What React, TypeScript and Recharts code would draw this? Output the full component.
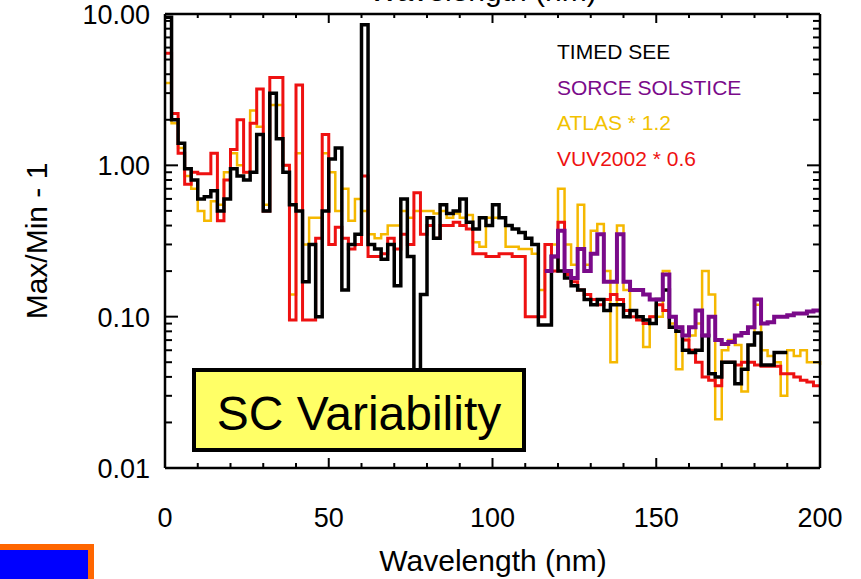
import { LineChart, Line, XAxis, YAxis } from 'recharts';

// wavelength bins (nm), 2 nm wide
const wavelengths = [
  0, 2, 4, 6, 8, 10, 12, 14, 16, 18,
  20, 22, 24, 26, 28, 30, 32, 34, 36, 38,
  40, 42, 44, 46, 48, 50, 52, 54, 56, 58,
  60, 62, 64, 66, 68, 70, 72, 74, 76, 78,
  80, 82, 84, 86, 88, 90, 92, 94, 96, 98,
  100, 102, 104, 106, 108, 110, 112, 114, 116, 118,
  120, 122, 124, 126, 128, 130, 132, 134, 136, 138,
  140, 142, 144, 146, 148, 150, 152, 154, 156, 158,
  160, 162, 164, 166, 168, 170, 172, 174, 176, 178,
  180, 182, 184, 186, 188, 190, 192, 194, 196, 198,
  200,
];

const timedSee = [
  9.5, 2.0, 1.4, 0.95, 0.8, 0.6, 0.62, 0.68, 0.5, 0.6,
  0.95, 0.85, 0.8, 0.9, 1.6, 0.5, 3.0, 1.5, 0.9, 0.55,
  0.5, 0.17, 0.3, 0.1, 0.5, 1.1, 1.3, 0.15, 0.3, 0.35,
  8.5, 0.3, 0.28, 0.24, 0.3, 0.16, 0.6, 0.25, 0.04, 0.14,
  0.45, 0.33, 0.55, 0.48, 0.5, 0.6, 0.42, 0.38, 0.45, 0.4,
  0.55, 0.45, 0.4, 0.38, 0.36, 0.33, 0.3, 0.088, 0.088, 0.25,
  0.2, 0.18, 0.16, 0.15, 0.13, 0.12, 0.13, 0.11, 0.12, 0.12,
  0.1, 0.11, 0.1, 0.095, 0.09, 0.13, 0.15, 0.085, 0.08, 0.06,
  0.058, 0.06, 0.075, 0.042, 0.04, 0.05, 0.05, 0.036, 0.045, 0.065,
  0.078, 0.048, 0.048, 0.058, 0.058, 0.058, null, null, null, null,
  null,
];

const sorceSolstice = [
  ...Array(58).fill(null), 0.2, 0.25,
  0.37, 0.2, 0.18, 0.28, 0.2, 0.26, 0.35, 0.17, 0.17, 0.35,
  0.17, 0.15, 0.15, 0.14, 0.13, 0.13, 0.19, 0.1, 0.085, 0.075,
  0.085, 0.11, 0.075, 0.1, 0.07, 0.066, 0.068, 0.075, 0.078, 0.085,
  0.13, 0.09, 0.092, 0.1, 0.1, 0.102, 0.105, 0.105, 0.108, 0.11,
  0.11,
];

const atlas = [
  3.5, 1.9, 1.3, 0.85, 0.7, 0.5, 0.43, 0.58, 0.55, 0.9,
  1.2, 1.0, 0.9, 2.3, 1.8, 0.55, 2.5, 2.5, 1.0, 0.14,
  1.2, 0.3, 0.45, 0.45, 1.2, 0.9, 0.5, 0.7, 0.43, 0.6,
  0.5, 0.35, 0.33, 0.35, 0.4, 0.4, 0.5, 0.45, 0.5, 0.5,
  0.5, 0.48, 0.5, 0.45, 0.48, 0.45, 0.47, 0.31, 0.29, 0.45,
  0.45, 0.45, 0.29, 0.29, 0.28, 0.28, 0.26, 0.15, 0.2, 0.3,
  0.7, 0.3, 0.22, 0.55, 0.22, 0.37, 0.41, 0.2, 0.05, 0.4,
  0.15, 0.11, 0.1, 0.063, 0.1, 0.1, 0.2, 0.09, 0.045, 0.07,
  0.075, 0.09, 0.2, 0.14, 0.021, 0.06, 0.07, 0.065, 0.032, 0.065,
  0.12, 0.06, 0.055, 0.05, 0.03, 0.06, 0.055, 0.06, 0.05, 0.05,
  0.048,
];

const vuv2002 = [
  5.5, 2.2, 1.2, 0.75, 0.9, 0.88, 0.88, 1.2, 0.43, 0.8,
  1.27, 2.0, 0.9, 1.9, 3.2, 0.5, 3.8, 3.8, 1.0, 0.095,
  3.4, 0.095, 0.095, 0.33, 1.6, 0.3, 0.39, 0.33, 0.28, 0.3,
  0.85, 0.25, 0.25, 0.26, 0.33, 0.28, 0.35, 0.3, 0.66, 0.35,
  0.4, 0.33, 0.4, 0.4, 0.42, 0.4, 0.38, 0.26, 0.26, 0.25,
  0.25, 0.26, 0.26, 0.25, 0.25, 0.1, 0.1, 0.1, 0.3, 0.2,
  0.42, 0.19, 0.17, 0.15, 0.14, 0.13, 0.12, 0.13, 0.14, 0.13,
  0.11, 0.1, 0.095, 0.09, 0.1, 0.12, 0.11, 0.085, 0.085, 0.07,
  0.06, 0.05, 0.04, 0.038, 0.035, 0.05, 0.05, 0.048, 0.05, 0.05,
  0.048, 0.047, 0.047, 0.047, 0.042, 0.042, 0.04, 0.038, 0.037, 0.035,
  0.035,
];

const xTicks = [0, 10, 20, 30, 40, 50, 60, 70, 80, 90, 100, 110, 120, 130, 140, 150, 160, 170, 180, 190, 200];
const yTicks = [
  0.01, 0.02, 0.03, 0.04, 0.05, 0.06, 0.07, 0.08, 0.09,
  0.1, 0.2, 0.3, 0.4, 0.5, 0.6, 0.7, 0.8, 0.9,
  1, 2, 3, 4, 5, 6, 7, 8, 9, 10,
];

const series = [
  { key: 'atlas', name: 'ATLAS * 1.2', color: '#F5B800', text: '#F2C200', width: 2.5 },
  { key: 'vuv', name: 'VUV2002 * 0.6', color: '#EE1111', text: '#EE1111', width: 3 },
  { key: 'see', name: 'TIMED SEE', color: '#000000', text: '#000000', width: 3.5 },
  { key: 'solstice', name: 'SORCE SOLSTICE', color: '#7A0A8A', text: '#7A0A8A', width: 4 },
];
const legendOrder = ['see', 'solstice', 'atlas', 'vuv'];

const data = wavelengths.map((w, i) => ({
  w,
  see: timedSee[i],
  solstice: sorceSolstice[i],
  atlas: atlas[i],
  vuv: vuv2002[i],
}));

const FONT = '"Liberation Sans", Arial, Helvetica, sans-serif';
const isDecade = (v: number) => Math.abs(Math.log10(v) - Math.round(Math.log10(v))) < 1e-6;

const BottomTick = ({ x, y, payload }: any) => {
  const major = payload.value % 50 === 0;
  return (
    <g>
      <line x1={x} y1={y} x2={x} y2={y - (major ? 10 : 5)} stroke="#000" strokeWidth={2} />
      {major && (
        <text x={x} y={y + 59} textAnchor="middle" fontSize={27} fontFamily={FONT} fill="#000">
          {payload.value}
        </text>
      )}
    </g>
  );
};

const TopTick = ({ x, y, payload }: any) => {
  const major = payload.value % 50 === 0;
  return <line x1={x} y1={y} x2={x} y2={y + (major ? 9 : 4)} stroke="#000" strokeWidth={2} />;
};

const LeftTick = ({ x, y, payload }: any) => {
  const major = isDecade(payload.value);
  return (
    <g>
      <line x1={x} y1={y} x2={x + (major ? 13 : 7)} y2={y} stroke="#000" strokeWidth={2} />
      {major && (
        <text x={x - 15} y={y + 10} textAnchor="end" fontSize={27} fontFamily={FONT} fill="#000">
          {payload.value.toFixed(2)}
        </text>
      )}
    </g>
  );
};

const RightTick = ({ x, y, payload }: any) => {
  const major = isDecade(payload.value);
  return <line x1={x} y1={y} x2={x - (major ? 13 : 7)} y2={y} stroke="#000" strokeWidth={2} />;
};

const axisLine = { stroke: '#000', strokeWidth: 2.5 };

export default function App() {
  return (
    <div style={{ position: 'absolute', left: 0, top: 0, width: 861, height: 579, background: '#fff', overflow: 'hidden' }}>
      <LineChart width={861} height={579} data={data} margin={{ top: 4, right: 21, bottom: 51, left: 85 }}>
        <XAxis
          dataKey="w"
          type="number"
          domain={[0, 200]}
          ticks={xTicks}
          interval={0}
          height={60}
          tickSize={0}
          tickMargin={0}
          tick={BottomTick}
          axisLine={axisLine}
        />
        <XAxis
          xAxisId="top"
          dataKey="w"
          orientation="top"
          type="number"
          domain={[0, 200]}
          ticks={xTicks}
          interval={0}
          height={10}
          tickSize={0}
          tickMargin={0}
          tick={TopTick}
          axisLine={axisLine}
        />
        <YAxis
          scale="log"
          type="number"
          domain={[0.01, 10]}
          allowDataOverflow
          ticks={yTicks}
          interval={0}
          width={80}
          tickSize={0}
          tickMargin={0}
          tick={LeftTick}
          axisLine={axisLine}
        />
        <YAxis
          yAxisId="right"
          orientation="right"
          scale="log"
          type="number"
          domain={[0.01, 10]}
          allowDataOverflow
          ticks={yTicks}
          interval={0}
          width={20}
          tickSize={0}
          tickMargin={0}
          tick={RightTick}
          axisLine={axisLine}
        />
        {series.map((s) => (
          <Line
            key={s.key}
            dataKey={s.key}
            name={s.name}
            type="stepAfter"
            stroke={s.color}
            strokeWidth={s.width}
            dot={false}
            activeDot={false}
            isAnimationActive={false}
          />
        ))}
        {/* a dummy series so the top and right axes get drawn */}
        <Line xAxisId="top" yAxisId="right" dataKey="solstice" stroke="none" dot={false} activeDot={false} legendType="none" isAnimationActive={false} />
      </LineChart>
      <svg width={861} height={579} style={{ position: 'absolute', left: 0, top: 0, pointerEvents: 'none' }}>
        <g fontFamily={FONT}>
          <text x={483} y={1} textAnchor="middle" fontSize={30} fill="#000">Wavelength (nm)</text>
          <text x={493} y={571} textAnchor="middle" fontSize={30} fill="#000">Wavelength (nm)</text>
          <text transform="translate(47,241) rotate(-90)" textAnchor="middle" fontSize={30} fill="#000">Max/Min - 1</text>
          {legendOrder.map((k, i) => {
            const s = series.find((d) => d.key === k)!;
            return (
              <text key={k} x={557} y={59 + i * 35.5} fontSize={21} fill={s.text}>
                {s.name}
              </text>
            );
          })}
          <rect x={194} y={370} width={330} height={80} fill="#FFFF66" stroke="#000" strokeWidth={4} />
          <text x={359} y={430} textAnchor="middle" fontSize={48} fill="#000">SC Variability</text>
        </g>
        <rect x={0} y={544} width={94} height={40} fill="#FF6600" />
        <rect x={0} y={550} width={88} height={40} fill="#0000FF" />
      </svg>
    </div>
  );
}
